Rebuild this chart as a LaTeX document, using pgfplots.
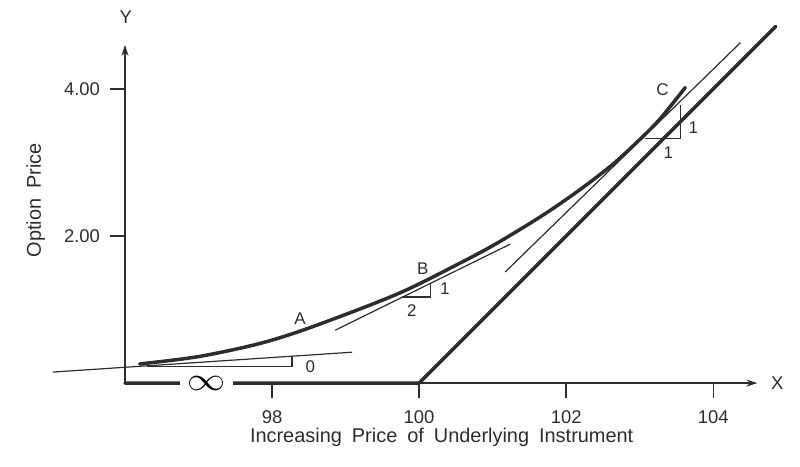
\documentclass[border=0pt]{standalone}
\usepackage{fontspec}
\setmainfont{Liberation Sans}
\usepackage{graphicx}
\usepackage{pgfplots}
\pgfplotsset{compat=1.18}
\usetikzlibrary{arrows.meta}
\definecolor{ink}{RGB}{45,45,45}
\newcommand{\ws}{\hspace{0.5em}}
\begin{document}
\begin{tikzpicture}
\begin{axis}[
  x=73.5bp, y=73.5bp,
  xmin=96, xmax=104.6, ymin=0, ymax=4.6,
  axis lines=left,
  axis line style={ink, line width=1.4bp},
  x axis line style={-{Stealth[length=11bp,width=7bp]}},
  y axis line style={-{Stealth[length=11bp,width=7bp]}},
  clip=false,
  xtick={98,100,102,104},
  ytick={2,4},
  yticklabels={2.00,4.00},
  tick align=outside,
  major tick length=15bp,
  tick style={ink, line width=1.4bp},
  ticklabel style={font=\fontsize{18.5}{22}\selectfont, text=ink},
  xticklabel style={anchor=center, yshift=-19bp},
  yticklabel style={anchor=center, xshift=-28bp},
  /pgf/number format/assume math mode=true,
  xlabel={Increasing\ws Price\ws of\ws Underlying\ws Instrument},
  ylabel={Option\ws Price},
  label style={font=\fontsize{20}{24}\selectfont, text=ink},
  xlabel style={at={(axis description cs:0.5008,-0.16)}, anchor=center},
  ylabel style={at={(axis description cs:-0.141,0.541)}, anchor=center},
]
% intrinsic value
\addplot[ink, line width=3.5bp, line cap=round] coordinates {(96,0) (100,0) (104.85,4.85)};
% option price curve
\addplot[ink, line width=3.5bp, smooth, line cap=round] coordinates {
 (96.20,0.26) (97.00,0.36) (97.80,0.53) (98.42,0.72) (99.33,1.06) (99.92,1.31)
 (100.84,1.78) (101.29,2.04) (101.74,2.32) (102.20,2.64) (102.64,2.98)
 (103.05,3.36) (103.30,3.62) (103.62,4.02)};
% tangents
\addplot[ink, line width=1.2bp] coordinates {(95.02,0.15) (99.09,0.42)};
\addplot[ink, line width=1.2bp] coordinates {(96.3,0.23) (98.27,0.23) (98.27,0.35)};
\addplot[ink, line width=1.2bp] coordinates {(98.86,0.72) (101.24,1.89)};
\addplot[ink, line width=1.2bp] coordinates {(99.77,1.17) (100.15,1.17) (100.15,1.36)};
\addplot[ink, line width=1.2bp] coordinates {(101.17,1.51) (104.37,4.63)};
\addplot[ink, line width=1.2bp] coordinates {(103.07,3.33) (103.56,3.33) (103.56,3.78)};
% infinity break
\node[fill=white, inner sep=0pt, minimum width=53bp, minimum height=16bp] at (axis cs:97.11,0) {\resizebox{38bp}{14bp}{$\infty$}};
% annotations
\begin{scope}[every node/.style={font=\fontsize{17}{20}\selectfont, text=ink, inner sep=0pt}]
\node at (axis cs:98.38,0.87) {A};
\node at (axis cs:100.05,1.56) {B};
\node at (axis cs:100.35,1.28) {1};
\node at (axis cs:99.90,0.99) {2};
\node at (axis cs:98.52,0.22) {0};
\node at (axis cs:103.31,3.99) {C};
\node at (axis cs:103.73,3.47) {1};
\node at (axis cs:103.39,3.14) {1};
\end{scope}
\node[font=\fontsize{18.5}{22}\selectfont, text=ink, inner sep=0pt] at (axis cs:104.87,0) {X};
\node[font=\fontsize{18.5}{22}\selectfont, text=ink, inner sep=0pt] at (axis cs:96.01,4.97) {Y};
\path (axis cs:94.30,-1.129) rectangle (axis cs:105.18,5.21);
\end{axis}
\end{tikzpicture}
\end{document}
